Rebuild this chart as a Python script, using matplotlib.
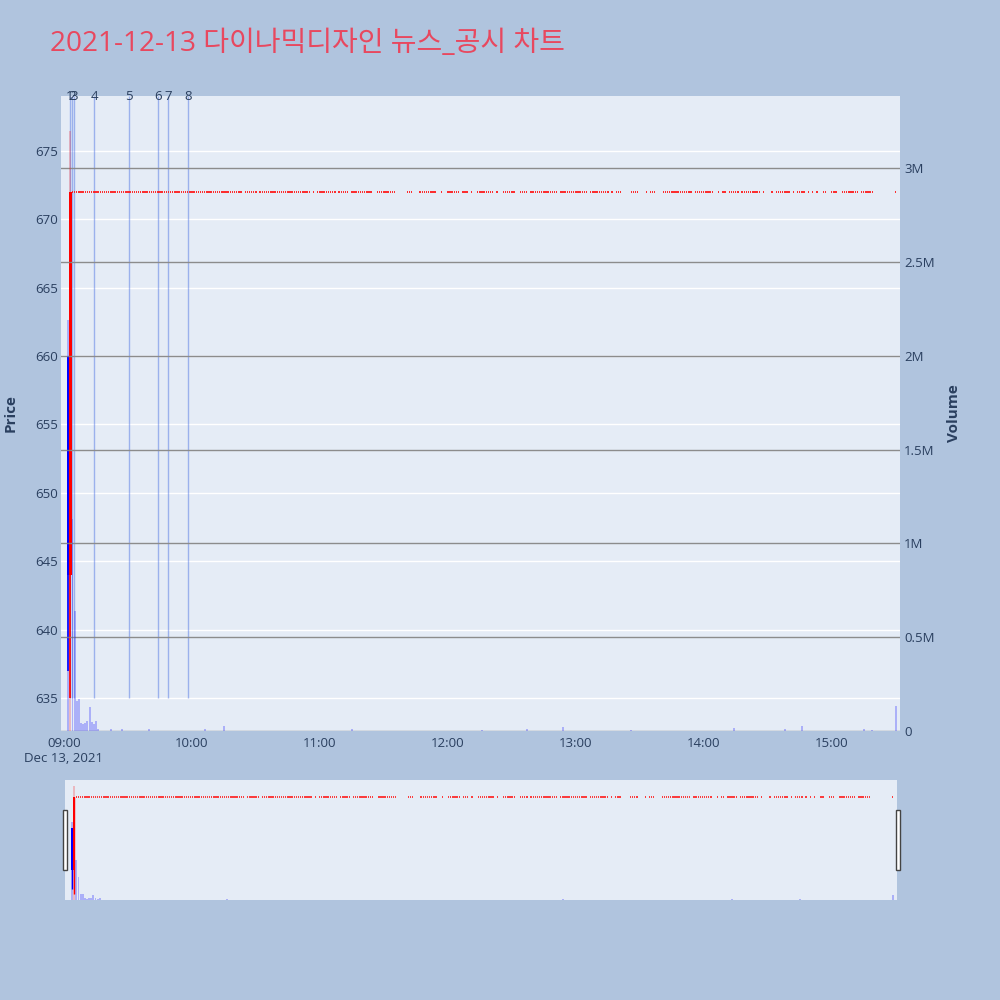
import numpy as np
import matplotlib

matplotlib.use("Agg")
import matplotlib.pyplot as plt
from matplotlib.patches import Rectangle

plt.rcParams["font.family"] = ["Open Sans", "Noto Sans CJK KR", "DejaVu Sans"]

# --- data ---
title = "2021-12-13 다이나믹디자인 뉴스_공시 차트"

# candles with a real range (first minutes of the session)
candle_times = ["09:02", "09:03"]
candle_open = [660, 644]
candle_high = [660, 672]
candle_low = [637, 635]
candle_close = [644, 672]

# afterwards the price stays flat, one tick per traded minute
flat_price = 672
trade_segments = [
    ("09:04", "10:23"), ("10:25", "10:30"), ("10:32", "10:55"), ("10:57", "10:57"),
    ("10:59", "11:07"), ("11:09", "11:13"), ("11:15", "11:23"), ("11:24", "11:24"),
    ("11:27", "11:35"), ("11:41", "11:43"), ("11:47", "11:54"), ("11:57", "11:57"),
    ("12:00", "12:05"), ("12:07", "12:09"), ("12:11", "12:11"), ("12:14", "12:21"),
    ("12:23", "12:23"), ("12:26", "12:31"), ("12:34", "12:37"), ("12:39", "12:51"),
    ("12:53", "13:05"), ("13:07", "13:10"), ("13:11", "13:15"), ("13:17", "13:17"),
    ("13:19", "13:21"), ("13:26", "13:29"), ("13:33", "13:33"), ("13:35", "13:37"),
    ("13:41", "13:54"), ("13:56", "14:04"), ("14:07", "14:07"), ("14:09", "14:10"),
    ("14:12", "14:16"), ("14:18", "14:26"), ("14:28", "14:28"), ("14:32", "14:32"),
    ("14:34", "14:40"), ("14:42", "14:42"), ("14:44", "14:47"), ("14:49", "14:49"),
    ("14:51", "14:51"), ("14:53", "14:53"), ("14:56", "14:57"), ("15:00", "15:02"),
    ("15:05", "15:12"), ("15:14", "15:19"), ("15:30", "15:30"),
]

# volumes that are visible; other traded minutes are tiny
volume_times = ["09:02", "09:03", "09:04", "09:05", "09:06", "09:07", "09:08", "09:09",
                "09:10", "09:11", "09:12", "09:13", "09:14", "09:15", "09:16", "09:22",
                "09:27", "09:40", "10:06", "10:15", "11:15", "12:16", "12:37", "12:54",
                "13:26", "14:14", "14:38", "14:46", "15:15", "15:19", "15:30"]
volume_values = [2190000, 3200000, 1130000, 640000, 160000, 170000, 43000, 35000,
                 45000, 55000, 128000, 50000, 35000, 55000, 10000, 12000,
                 10000, 8000, 10000, 25000, 12000, 6000, 9000, 21000,
                 6000, 16000, 8000, 28000, 13000, 5000, 135000]
small_volume = 1200

# disclosure / news markers
event_labels = ["1", "2", "3", "4", "5", "6", "7", "8"]
event_times = ["09:02:50", "09:03:40", "09:04:35", "09:14:10", "09:30:20",
               "09:44:00", "09:49:00", "09:58:10"]


def to_min(t):
    parts = [int(p) for p in t.split(":")]
    m = (parts[0] - 9) * 60 + parts[1]
    if len(parts) > 2:
        m += parts[2] / 60
    return m


flat_x = []
for a, b in trade_segments:
    flat_x.extend(range(int(to_min(a)), int(to_min(b)) + 1))
flat_x = np.array(flat_x)

vol_lookup = {to_min(t): v for t, v in zip(volume_times, volume_values)}
c_x = np.array([to_min(t) for t in candle_times])
all_x = np.concatenate([c_x, flat_x])
all_vol = np.array([vol_lookup.get(x, small_volume) for x in all_x])
up = np.concatenate([np.array(candle_close) > np.array(candle_open),
                     np.zeros(len(flat_x), bool)])

# --- figure ---
bg = "#b0c4de"
plot_bg = "#e5ecf6"
txt = "#2a3f5f"
fig = plt.figure(figsize=(10, 10), dpi=100, facecolor=bg)
ax = fig.add_axes([0.061, 0.269, 0.839, 0.635], facecolor=plot_bg)
axv = ax.twinx()

xlim = (-1.4, 392)
ax.set_xlim(*xlim)
ax.set_ylim(632.6, 679.0)
axv.set_ylim(0, 3386000)

# price grid (white) and volume grid (gray)
ax.set_yticks(np.arange(635, 676, 5))
ax.grid(True, axis="y", color="white", lw=1)
axv.set_yticks(np.arange(0, 3000001, 500000))
axv.set_yticklabels(["0", "0.5M", "1M", "1.5M", "2M", "2.5M", "3M"])
axv.grid(True, axis="y", color="#8c8c8c", lw=1)
ax.set_axisbelow(True)

ticks = [to_min(t) for t in ["09:00", "10:00", "11:00", "12:00", "13:00", "14:00", "15:00"]]
ax.set_xticks(ticks)
ax.set_xticklabels(["09:00\nDec 13, 2021", "10:00", "11:00", "12:00", "13:00", "14:00", "15:00"],
                   linespacing=1.25)
for a_ in (ax, axv):
    for s in a_.spines.values():
        s.set_visible(False)
ax.tick_params(axis="both", length=0, labelsize=9.5, colors=txt)
ax.tick_params(axis="y", pad=2)
ax.tick_params(axis="x", pad=4)
axv.tick_params(axis="y", length=0, labelsize=9.5, colors=txt, pad=3)
for lbl in ax.get_xticklabels():
    lbl.set_verticalalignment("top")

ax.set_ylabel("Price", fontsize=11, fontweight="bold", color=txt, labelpad=13)
axv.set_ylabel("Volume", fontsize=11, fontweight="bold", color=txt, labelpad=9)


def draw_prices(a, wick_lw, body_w, flat_lw):
    for x, o, h, l, c in zip(c_x, candle_open, candle_high, candle_low, candle_close):
        col = "#ff0000" if c > o else "#0000ff"
        a.vlines(x, l, h, color=col, lw=wick_lw, zorder=3)
        a.bar(x, abs(c - o), bottom=min(o, c), width=body_w, color=col, lw=0, zorder=3)
    a.hlines(np.full(len(flat_x), flat_price), flat_x - 0.33, flat_x + 0.33,
             color="#ff1a1a", lw=flat_lw, zorder=3)


def draw_volume(a):
    cols = [(1, 0, 0, 0.22) if u else (0, 0, 1, 0.25) for u in up]
    a.bar(all_x, all_vol, width=0.9, color=cols, lw=0, zorder=4)


draw_prices(ax, 1.2, 1.1, 1.3)
draw_volume(axv)

# event markers
ev_x = [to_min(t) for t in event_times]
ax.vlines(ev_x, 635, 679.0, color="royalblue", alpha=0.45, lw=1, zorder=2)
for lab, x in zip(event_labels, ev_x):
    ax.text(x, 679.0, lab, ha="center", va="center", fontsize=9.5, color=txt, zorder=5)

fig.text(0.05, 0.956, title, fontsize=20.2, color="#e8485f", ha="left", va="center")

# --- range slider ---
rs = fig.add_axes([0.065, 0.10, 0.832, 0.12], facecolor=plot_bg)
rsv = rs.twinx()
rs.set_xlim(*xlim)
rs.set_ylim(632.7, 678.5)
rsv.set_ylim(0, 3370000)
draw_prices(rs, 1.0, 1.1, 1.2)
draw_volume(rsv)
for a_ in (rs, rsv):
    a_.set_xticks([])
    a_.set_yticks([])
    for s in a_.spines.values():
        s.set_visible(False)
for hx in (0.0625, 0.8955):
    fig.patches.append(Rectangle((hx, 0.130), 0.004, 0.060, transform=fig.transFigure,
                                 facecolor="white", edgecolor="#444444", lw=1, zorder=10))

fig.savefig("out.png", dpi=100, facecolor=bg)
